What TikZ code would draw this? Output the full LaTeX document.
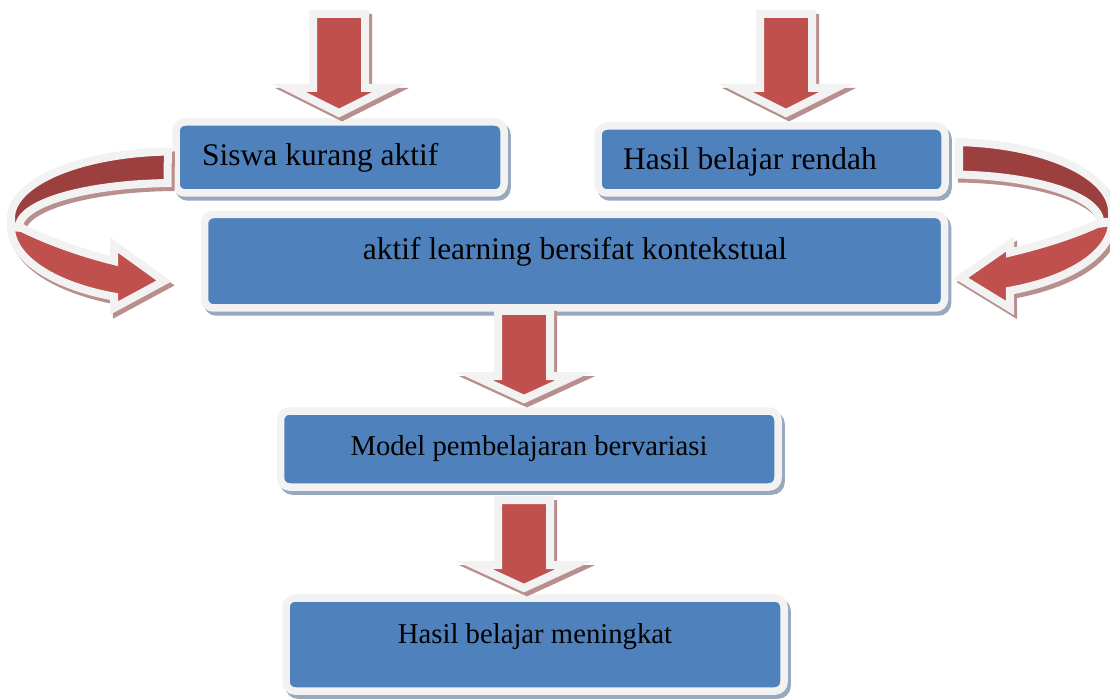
\documentclass[tikz,border=0pt]{standalone}
\usepackage{fontspec}
\setmainfont{Liberation Serif}
\definecolor{boxblue}{HTML}{4F81BD}
\definecolor{framecol}{HTML}{F2F2F2}
\definecolor{boxshadow}{HTML}{98A8BE}
\definecolor{arrred}{HTML}{C0504D}
\definecolor{arrdark}{HTML}{9B403E}
\definecolor{arrshadow}{HTML}{B98F8E}
\tikzset{
  box/.style={rectangle, rounded corners=9pt, fill=boxblue, draw=framecol, line width=7.5pt, inner sep=0pt, outer sep=0pt},
  boxshad/.style={rectangle, rounded corners=9pt, fill=boxshadow, draw=boxshadow, line width=7.5pt, inner sep=0pt, outer sep=0pt},
  blockarrow/.style={fill=arrred, draw=framecol, line width=8pt, line join=miter, miter limit=10},
  blockdark/.style={fill=arrdark, draw=framecol, line width=8pt, line join=miter, miter limit=10},
  arrshad/.style={fill=arrshadow, draw=arrshadow, line width=8pt, line join=miter, miter limit=10},
  bigtxt/.style={inner sep=0pt, font=\fontsize{31.5}{36}\selectfont},
  midtxt/.style={inner sep=0pt, font=\fontsize{28.7}{33}\selectfont}
}
% down block arrow: centre x, top y, shoulder y, tip y
\newcommand{\blockdownpath}[4]{({#1-26},{#2}) -- ({#1+26},{#2}) -- ({#1+26},{#3}) -- ({#1+50},{#3}) -- ({#1},{#4}) -- ({#1-50},{#3}) -- ({#1-26},{#3}) -- cycle}
\newcommand{\blockdown}[4]{%
  \path[arrshad, xshift=3pt, yshift=-4pt] \blockdownpath{#1}{#2}{#3}{#4};
  \path[blockarrow] \blockdownpath{#1}{#2}{#3}{#4};}
% curved arrows
\newcommand{\leftupper}{plot[domain=0:1, samples=50] ({175+164*cos(-92.5-87.5*\x)},{218+66.5*sin(-92.5-87.5*\x)}) -- (11,227) -- plot[domain=0:1, samples=50] ({175+156*cos(-180+87.3*\x)},{227+44*sin(-180+87.3*\x)}) -- cycle}
\newcommand{\leftlower}{plot[domain=0:1, samples=50] ({175+164*cos(180-68.2*\x)},{227+75*sin(180-68.2*\x)}) -- (114,308) -- (164,281) -- (114,245) -- (114,261) .. controls (70,250) and (38,236) .. (22,228) -- cycle}
\newcommand{\rightupper}{plot[domain=0:1, samples=50] ({950+162*cos(-86.8+86.8*\x)},{212+70*sin(-86.8+86.8*\x)}) -- (1112,222) -- plot[domain=0:1, samples=50] ({950+150*cos(-86.6*\x)},{222+47.5*sin(-86.6*\x)}) -- cycle}
\newcommand{\rightlower}{plot[domain=0:1, samples=50] ({950+162*cos(68.3*\x)},{222+74*sin(68.3*\x)}) -- (1010,308) -- (961,278) -- (1010,244) -- (1010,252.5) .. controls (1050,243) and (1080,232) .. (1097,224) -- cycle}
\begin{document}
\begin{tikzpicture}[x=1pt, y=-1pt]
\path[use as bounding box] (0,0) rectangle (1110,700);
\fill[white] (0,0) rectangle (1110,700);
\clip (0,0) rectangle (1110,700);
% shadows of boxes
\node[boxshad, minimum width=328pt, minimum height=71pt] (s1) at (343,161.5) {};
\node[boxshad, minimum width=347pt, minimum height=67pt] (s2) at (774.5,163.5) {};
\node[boxshad, minimum width=740pt, minimum height=93.5pt] (s3) at (577.5,265.25) {};
\node[boxshad, minimum width=497.5pt, minimum height=76pt] (s4) at (532.25,453) {};
\node[boxshad, minimum width=498pt, minimum height=93pt] (s5) at (538,648.5) {};
% boxes
\node[box, minimum width=328pt, minimum height=71pt] (b1) at (340,157.5) {};
\node[box, minimum width=347pt, minimum height=67pt] (b2) at (771.5,159.5) {};
\node[box, minimum width=740pt, minimum height=93.5pt] (b3) at (574.5,261.25) {};
\node[box, minimum width=497.5pt, minimum height=76pt] (b4) at (529.25,449) {};
\node[box, minimum width=498pt, minimum height=93pt] (b5) at (535,644.5) {};
% texts
\node[bigtxt, anchor=base west] (t1) at (202,166) {Siswa kurang aktif};
\node[bigtxt, anchor=base west] (t2) at (623,170) {Hasil belajar rendah};
\node[bigtxt, anchor=base] (t3) at (575,260) {aktif learning bersifat kontekstual};
\node[midtxt, anchor=base] (t4) at (529,455) {Model pembelajaran bervariasi};
\node[midtxt, anchor=base] (t5) at (535,643) {Hasil belajar meningkat};
% straight block arrows
\blockdown{339}{14}{88}{113}
\blockdown{786}{14}{88}{113}
\blockdown{524}{311}{376}{399}
\blockdown{524}{500}{565}{588}
% curved arrows: shadows
\begin{scope}[xshift=3pt, yshift=-4pt]
\path[arrshad] \leftupper;
\path[arrshad] \leftlower;
\path[arrshad] \rightupper;
\path[arrshad] \rightlower;
\end{scope}
% curved arrows
\path[blockdark] \leftupper;
\path[blockarrow] \leftlower;
\path[blockdark] \rightupper;
\path[blockarrow] \rightlower;
\end{tikzpicture}
\end{document}
